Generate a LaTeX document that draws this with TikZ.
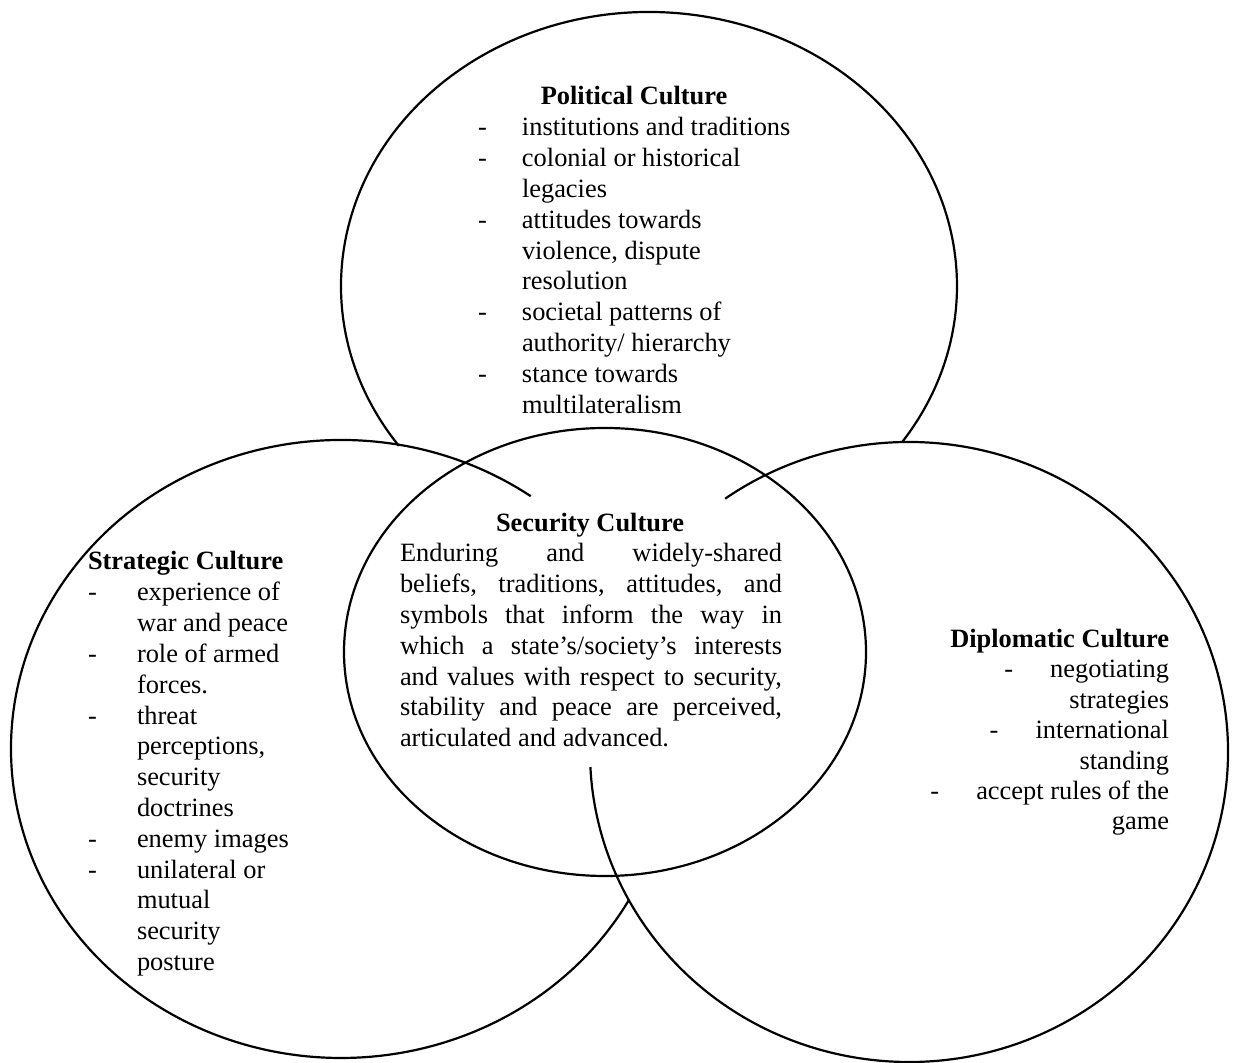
\documentclass[tikz,border=0pt]{standalone}
\usepackage{fontspec}
\setmainfont{Liberation Serif}
\begin{document}
\begin{tikzpicture}[x=0.5pt,y=0.5pt,
  ring/.style={line width=1.1pt, draw=black},
  txt/.style={inner sep=0pt, outer sep=0pt, font=\fontsize{13.2pt}{15.4pt}\selectfont},
  head/.style={inner sep=0pt, outer sep=0pt, font=\fontsize{13.2pt}{15.4pt}\selectfont\bfseries}]
\useasboundingbox (0,0) rectangle (1234,1063);
% centres of the four circles
\coordinate (Tc) at (649,777);
\coordinate (Lc) at (341,314);
\coordinate (Rc) at (909,311);
\coordinate (Cc) at (605,411);
% circles
\draw[ring] (Tc) ++(215.7:308 and 274) arc[start angle=215.7, end angle=-34.7, x radius=308, y radius=274];
\draw[ring] (Lc) ++(54.9:330 and 309) arc[start angle=54.9, end angle=330.8, x radius=330, y radius=309];
\draw[ring] (Rc) ++(125.2:319 and 310) arc[start angle=125.2, end angle=-177.2, x radius=319, y radius=310];
\draw[ring] (Cc) ellipse[x radius=261, y radius=224];
% Political Culture
\node[head, anchor=base] (polh) at (634,958) {Political Culture};
\node[txt, anchor=base west, text width=170pt, align=flush left] (polb) at (478,927) {%
\makebox[22pt][l]{-}institutions and traditions\\
\makebox[22pt][l]{-}colonial or historical\\
\hspace*{22pt}legacies\\
\makebox[22pt][l]{-}attitudes towards\\
\hspace*{22pt}violence, dispute\\
\hspace*{22pt}resolution\\
\makebox[22pt][l]{-}societal patterns of\\
\hspace*{22pt}authority/ hierarchy\\
\makebox[22pt][l]{-}stance towards\\
\hspace*{22pt}multilateralism};
% Security Culture
\node[head, anchor=base] (sech) at (590,531) {Security Culture};
\node[txt, anchor=base west, text width=191pt, align=justify] (secb) at (400,501) {%
Enduring and widely-shared\linebreak
beliefs, traditions, attitudes, and\linebreak
symbols that inform the way in\linebreak
which a state’s/society’s interests\linebreak
and values with respect to security,\linebreak
stability and peace are perceived,\linebreak
articulated and advanced.};
% Strategic Culture
\node[head, anchor=base west] (strh) at (88,493) {Strategic Culture};
\node[txt, anchor=base west, text width=120pt, align=flush left] (strb) at (88,462) {%
\makebox[24.5pt][l]{-}experience of\\
\hspace*{24.5pt}war and peace\\
\makebox[24.5pt][l]{-}role of armed\\
\hspace*{24.5pt}forces.\\
\makebox[24.5pt][l]{-}threat\\
\hspace*{24.5pt}perceptions,\\
\hspace*{24.5pt}security\\
\hspace*{24.5pt}doctrines\\
\makebox[24.5pt][l]{-}enemy images\\
\makebox[24.5pt][l]{-}unilateral or\\
\hspace*{24.5pt}mutual\\
\hspace*{24.5pt}security\\
\hspace*{24.5pt}posture};
% Diplomatic Culture
\node[head, anchor=base east] (diph) at (1169,415) {Diplomatic Culture};
\node[inner sep=0pt, outer sep=0pt, font=\fontsize{13.2pt}{15.2pt}\selectfont, anchor=base east, text width=135pt, align=flush right] (dipb) at (1169,385) {%
-\hspace{18.6pt}negotiating\\
strategies\\
-\hspace{18.6pt}international\\
standing\\
-\hspace{18.6pt}accept rules of the\\
game};
\end{tikzpicture}
\end{document}
